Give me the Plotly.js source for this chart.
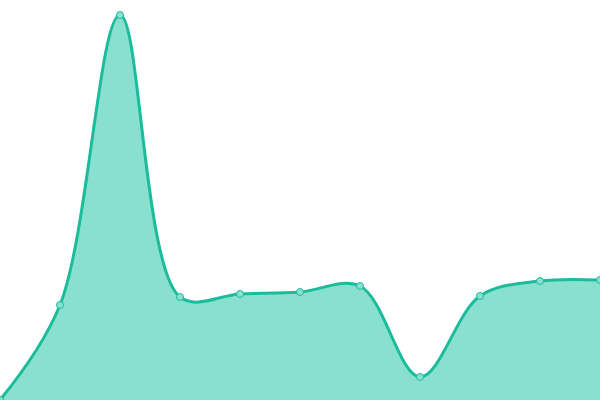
<!DOCTYPE html>
<html>
<head>
<meta charset="utf-8">
<script src="https://cdn.plot.ly/plotly-3.0.1.min.js"></script>
<style>
  html, body { margin: 0; padding: 0; background: #fff; }
  #plot { width: 600px; height: 400px; }
</style>
</head>
<body>
<div id="plot"></div>
<script>
// values (y axis 0..400)
var xs = [0, 1, 2, 3, 4, 5, 6, 7, 8, 9, 10];
var values = [0, 95, 385, 103, 106, 108, 114, 23, 104, 119, 120];

var trace = {
  type: 'scatter',
  mode: 'lines+markers',
  x: xs,
  y: values,
  fill: 'tozeroy',
  fillcolor: '#8ae0cf',
  line: {color: '#1abc9c', width: 3, shape: 'spline', smoothing: 1},
  marker: {size: 7, color: '#8ae0cf', line: {color: '#1abc9c', width: 1}},
  hoverinfo: 'none'
};

var layout = {
  width: 600,
  height: 400,
  margin: {l: 0, r: 0, t: 0, b: 0},
  paper_bgcolor: '#fff',
  plot_bgcolor: '#fff',
  showlegend: false,
  xaxis: {range: [0, 10], visible: false, fixedrange: true},
  yaxis: {range: [0, 400], visible: false, fixedrange: true}
};

Plotly.newPlot('plot', [trace], layout, {displayModeBar: false, staticPlot: true});
</script>
</body>
</html>
